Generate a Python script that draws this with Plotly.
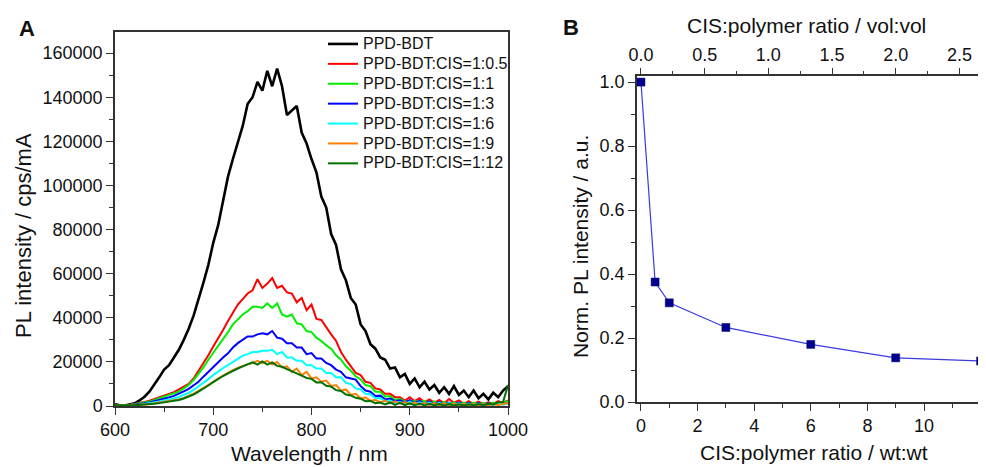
import plotly.graph_objects as go

# ---------------- Panel A data (5 nm steps) ----------------
wavelength = list(range(600, 1001, 5))

pl_ppd_bdt = [800, 300, 200, 600, 1200, 2500, 4200, 6500, 9500, 13000,
              16500, 18500, 22000, 25500, 30000, 35000, 41000, 48000, 56000, 64000,
              74000, 82000, 93000, 104000, 112000, 119000, 127000, 137000, 140000, 147000,
              143000, 152000, 145000, 153000, 145000, 132000, 134000, 136000, 124000, 119000,
              112000, 106000, 95000, 90000, 78000, 73000, 62000, 57000, 49000, 46000,
              37000, 34000, 28000, 26000, 22000, 21000, 17000, 17500, 13000, 14500,
              10000, 12500, 8500, 11000, 7500, 9500, 6000, 8500, 5500, 9000,
              5000, 7000, 4000, 7000, 3500, 5500, 3000, 6000, 4000, 7000, 9000]

pl_cis_0_5 = [500, 300, 400, 600, 900, 1300, 1800, 2400, 3200, 4000,
              5000, 5600, 6300, 7500, 8700, 10000, 12500, 16000, 19000, 23000,
              27000, 30500, 34500, 38500, 42000, 46000, 48500, 51000, 52500, 57500,
              53500, 55500, 58000, 53500, 54500, 51500, 51000, 47000, 49000, 43500,
              46000, 39500, 39000, 35500, 32500, 29500, 24500, 21000, 18000, 15000,
              14000, 11000, 10500, 8000, 7500, 5500, 5500, 4000, 4000, 2500,
              4000, 2200, 3500, 1800, 3000, 1500, 2800, 1200, 3200, 1500,
              2500, 1000, 2200, 900, 2000, 800, 1700, 1000, 2200, 1300, 2500]

pl_cis_1 = [400, 300, 300, 500, 800, 1100, 1500, 2000, 2700, 3400,
            4200, 4800, 5500, 6500, 8000, 9500, 11800, 14500, 17500, 21000,
            24000, 27500, 30500, 33500, 37000, 39500, 41500, 43000, 45000, 45000,
            44500, 46500, 44500, 46500, 41500, 40500, 41500, 37500, 37000, 34000,
            33500, 31000, 29500, 27500, 26000, 23000, 21000, 18000, 16000, 13500,
            12000, 9500, 9000, 6500, 6500, 4300, 4500, 2800, 3200, 2000,
            2400, 2200, 1900, 2400, 1100, 2100, 900, 1900, 700, 1700,
            800, 1600, 600, 1500, 700, 1400, 600, 1600, 900, 1800, 2000]

pl_cis_3 = [300, 200, 300, 400, 600, 900, 1200, 1600, 2100, 2700,
            3300, 3900, 4600, 5500, 6600, 7800, 9300, 11000, 13300, 15500,
            17800, 20000, 22000, 23900, 26500, 28500, 30000, 31500, 31500, 32500,
            33000, 32500, 34000, 31000, 30500, 28500, 28500, 26500, 26500, 23500,
            24000, 21500, 21500, 19500, 18500, 16500, 15500, 13000, 12500, 12000,
            9000, 7000, 6500, 4500, 4700, 3000, 3400, 2200, 2600, 1600,
            2700, 1300, 2300, 1100, 2000, 900, 1800, 700, 1600, 600,
            1500, 500, 1400, 500, 1300, 600, 1200, 700, 1300, 800, 1400]

pl_cis_6 = [200, 200, 200, 300, 400, 600, 900, 1200, 1600, 2000,
            2500, 2900, 3400, 4100, 5000, 6000, 7300, 8800, 10300, 12200,
            14000, 15800, 17200, 18500, 20000, 21500, 22800, 23500, 24500, 24500,
            25000, 25000, 25500, 23500, 24500, 22000, 22000, 20500, 20500, 18500,
            18500, 17000, 17000, 15000, 15000, 13000, 13000, 10500, 10000, 8000,
            7500, 5500, 5300, 3500, 3600, 2200, 2500, 1500, 1800, 1000,
            2000, 900, 1700, 700, 1500, 600, 1400, 500, 1300, 500,
            1200, 400, 1100, 400, 1100, 400, 1000, 500, 1200, 600, 1300]

pl_cis_9 = [500, 300, 200, 300, 400, 500, 700, 900, 1200, 1500,
            1800, 2100, 2500, 3000, 3700, 4500, 5600, 6900, 8200, 9700,
            11000, 12500, 13800, 15000, 16300, 17300, 18200, 19000, 19500, 20500,
            19500, 20500, 18800, 20000, 17500, 18000, 15500, 17000, 14000, 15500,
            12500, 13000, 11000, 11500, 9000, 9500, 7000, 7500, 5000, 5500,
            3500, 3800, 2400, 2700, 1600, 2500, 1200, 2100, 1000, 1800,
            800, 1600, 600, 1400, 500, 1300, 400, 1200, 400, 1100,
            300, 1000, 300, 1000, 300, 900, 300, 900, 400, 1000, 1200]

pl_cis_12 = [300, 200, 200, 300, 300, 400, 600, 800, 1000, 1300,
             1600, 1900, 2200, 2700, 3400, 4200, 5200, 6500, 7800, 9300,
             10800, 12300, 13600, 14800, 16000, 17000, 18000, 18800, 19800, 18800,
             20200, 18800, 19800, 18200, 17800, 16700, 15800, 14700, 13800, 12700,
             12300, 10700, 10800, 9200, 8800, 7200, 6800, 5200, 4800, 3700,
             3300, 2200, 2300, 1300, 1600, 700, 1600, 500, 1400, 400,
             1200, 300, 1100, 300, 1000, 300, 900, 200, 900, 200,
             800, 200, 800, 300, 900, 300, 1000, 700, 1700, 1800, 9500]

series_names = ["PPD-BDT", "PPD-BDT:CIS=1:0.5", "PPD-BDT:CIS=1:1", "PPD-BDT:CIS=1:3",
                "PPD-BDT:CIS=1:6", "PPD-BDT:CIS=1:9", "PPD-BDT:CIS=1:12"]
series_values = [pl_ppd_bdt, pl_cis_0_5, pl_cis_1, pl_cis_3, pl_cis_6, pl_cis_9, pl_cis_12]
series_colors = ["#000000", "#ff0000", "#00ee00", "#0000ff", "#00ffff", "#ff8000", "#007000"]
series_widths = [2.6, 2.0, 2.0, 2.0, 2.0, 2.0, 2.0]

# ---------------- Panel B data ----------------
ratio_wt = [0, 0.5, 1, 3, 6, 9, 12]
norm_pl = [1.0, 0.375, 0.31, 0.233, 0.18, 0.138, 0.128]
wt_to_vol = 0.2222  # vol:vol per wt:wt (top axis scale)

FONT = "Liberation Sans, Arial, sans-serif"
AXC = "#333333"

fig = go.Figure()

for name, vals, col, w in zip(series_names, series_values, series_colors, series_widths):
    fig.add_trace(go.Scatter(x=wavelength, y=vals, mode="lines",
                             name=f'<span style="font-size:16px">{name}</span>',
                             line=dict(color=col, width=w),
                             xaxis="x", yaxis="y"))

fig.add_trace(go.Scatter(x=ratio_wt, y=norm_pl, mode="lines+markers", showlegend=False,
                         line=dict(color="#3a3ae0", width=1.2),
                         marker=dict(symbol="square", size=8, color="#000090",
                                     line=dict(color="#000060", width=0.5)),
                         xaxis="x2", yaxis="y2"))
# invisible trace to carry the top (vol:vol) axis
fig.add_trace(go.Scatter(x=[v * wt_to_vol for v in ratio_wt], y=norm_pl, mode="markers",
                         showlegend=False, hoverinfo="skip",
                         marker=dict(opacity=0), xaxis="x3", yaxis="y2"))

# page body has an 8px margin: figure pixel = screen pixel - 8
OFF = 8
W, H = 978, 459
def px_x(a, b):
    return [(a - OFF) / W, (b - OFF) / W]
def px_y(top, bottom):
    return [(H - (bottom - OFF)) / H, (H - (top - OFF)) / H]

common = dict(showline=True, linecolor=AXC, linewidth=1.5, mirror=True, ticks="outside",
              tickcolor=AXC, tickwidth=1.3, ticklen=7, showgrid=False, zeroline=False,
              tickfont=dict(family=FONT, size=18, color="#111"))

k = wt_to_vol
fig.update_layout(
    width=W, height=H,
    margin=dict(l=0, r=0, t=0, b=0, pad=0, autoexpand=False),
    paper_bgcolor="white", plot_bgcolor="white",
    font=dict(family=FONT, color="#111"),
    xaxis=dict(domain=px_x(115, 508), range=[600, 1000], dtick=100, anchor="y",
               minor=dict(dtick=50, ticklen=4, ticks="outside", tickcolor=AXC), **common),
    yaxis=dict(domain=px_y(32, 406), range=[0, 169600], dtick=20000, tickformat="d",
               anchor="x",
               minor=dict(dtick=10000, ticklen=4, ticks="outside", tickcolor=AXC), **common),
    xaxis2=dict(domain=px_x(637, 984), range=[-0.14, 12.12], dtick=2, anchor="y2",
                minor=dict(dtick=1, ticklen=4, ticks="outside", tickcolor=AXC), **common),
    yaxis2=dict(domain=px_y(76, 402), range=[0, 1.019], dtick=0.2, tickformat=".1f",
                anchor="x2",
                minor=dict(dtick=0.1, ticklen=4, ticks="outside", tickcolor=AXC), **common),
    xaxis3=dict(overlaying="x2", side="top", anchor="y2", range=[-0.14 * k, 12.12 * k],
                dtick=0.5, tickformat=".1f", showline=False, ticks="outside",
                tickcolor=AXC, tickwidth=1.3, ticklen=7, showgrid=False, zeroline=False,
                minor=dict(dtick=0.25, ticklen=4, ticks="outside", tickcolor=AXC),
                tickfont=dict(family=FONT, size=18, color="#111")),
    legend=dict(x=(323 - OFF) / W, y=(H - (29 - OFF)) / H, xanchor="left", yanchor="top",
                bgcolor="rgba(0,0,0,0)", font=dict(family=FONT, size=13, color="#111"),
                tracegroupgap=0, itemwidth=30),
    showlegend=True,
)

def ann(text, x, y, size, angle=0, bold=False):
    fig.add_annotation(text=f"<b>{text}</b>" if bold else text,
                       x=(x - OFF) / W, y=(H - (y - OFF)) / H,
                       xref="paper", yref="paper", showarrow=False, textangle=angle,
                       xanchor="center", yanchor="middle",
                       font=dict(family=FONT, size=size, color="#111"))

ann("A", 27, 29, 22, bold=True)
ann("B", 571, 27, 22, bold=True)
ann("PL intensity / cps/mA", 23, 236, 22, angle=-90)
ann("Wavelength / nm", 309, 453, 21)
ann("Norm. PL intensity / a.u.", 580, 247, 21, angle=-90)
ann("CIS:polymer ratio / wt:wt", 814, 452, 21)
ann("CIS:polymer ratio / vol:vol", 806, 25, 21)

fig.write_html("out.html")
